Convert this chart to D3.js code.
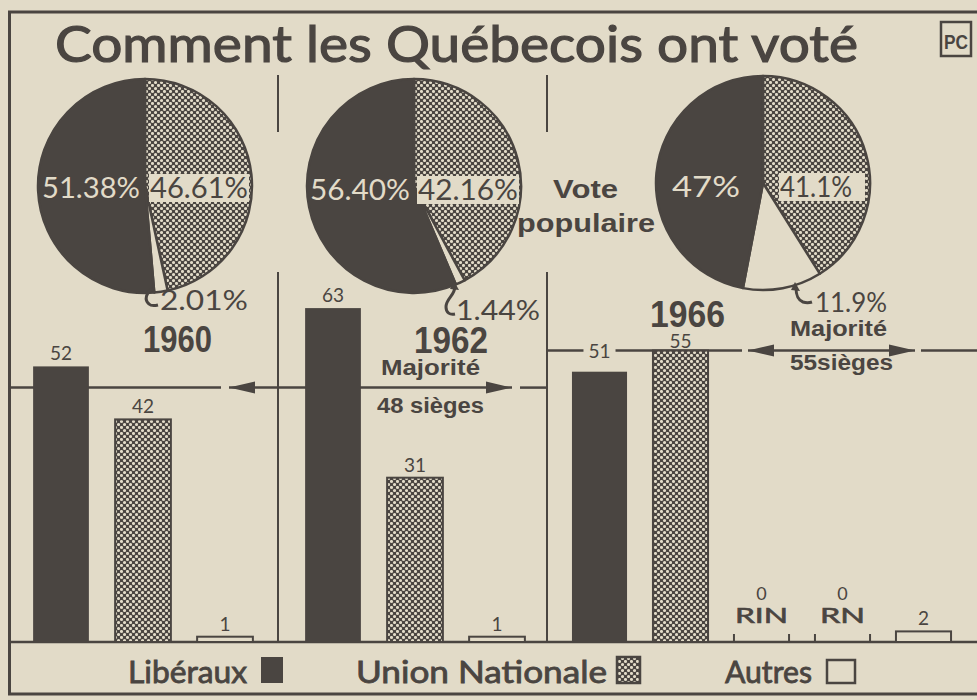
<!DOCTYPE html>
<html>
<head>
<meta charset="utf-8">
<script src="https://cdn.jsdelivr.net/npm/d3@7"></script>
<style>
body { margin: 0; background: #e2dbc8; }
svg { display: block; }
</style>
</head>
<body>
<svg id="chart"></svg>
<script>
// donnees
const annees = ["1960", "1962", "1966"];
const partis = ["Libéraux", "Union Nationale", "Autres"];
const voteLib = [51.38, 56.40, 47];
const voteUN = [46.61, 42.16, 41.1];
const voteAutres = [2.01, 1.44, 11.9];
const voteLibTxt = ["51.38%", "56.40%", "47%"];
const voteUNTxt = ["46.61%", "42.16%", "41.1%"];
const voteAutresTxt = ["2.01%", "1.44%", "11.9%"];
const siegesLib = [52, 63, 51];
const siegesUN = [42, 31, 55];
const siegesAutres = [1, 1, 2];
const petitsPartis1966 = ["RIN", "RN"];
const siegesPetits1966 = [0, 0];
const majorite = [48, 48, 55];
const majoriteTxt = ["48 sièges", "48 sièges", "55sièges"];

let width = 977, height = 700;
const bg = "#e2dbc8", ink = "#4a4541";
const fut = "Lato, 'Open Sans', sans-serif";
const hb = "'Liberation Sans', Arial, sans-serif";
const base = 642;

let svg = d3.select("#chart")
    .attr("width", width)
    .attr("height", height)
    .style("background", bg);

// trame pointillee (points clairs en quinconce)
let pat = svg.append("defs").append("pattern")
    .attr("id", "trame")
    .attr("width", 6).attr("height", 6)
    .attr("patternUnits", "userSpaceOnUse");
pat.append("rect").attr("width", 6).attr("height", 6).attr("fill", ink);
[[1.5, 1.5], [4.5, 4.5]].forEach(p => {
    pat.append("circle").attr("cx", p[0]).attr("cy", p[1]).attr("r", 1.55).attr("fill", bg);
});

const fillOf = k => k == "lib" ? ink : (k == "un" ? "url(#trame)" : bg);

// scale
let y = d3.scaleLinear().domain([0, 63]).range([base, base - 63 * 5.3]);

// cadre
svg.append("path")
    .attr("d", "M977,12 H9.5 V694 H977")
    .attr("fill", "none").attr("stroke", ink).attr("stroke-width", 3);
svg.append("line")
    .attr("x1", 9).attr("x2", 977).attr("y1", base).attr("y2", base)
    .attr("stroke", ink).attr("stroke-width", 2.5);

// separateurs
[278, 547].forEach(x => {
    [[75, 132], [272, base]].forEach(s => {
        svg.append("line")
            .attr("x1", x).attr("x2", x).attr("y1", s[0]).attr("y2", s[1])
            .attr("stroke", ink).attr("stroke-width", 2);
    });
});

// titre
svg.append("text")
    .attr("x", 55).attr("y", 62)
    .attr("textLength", 803).attr("lengthAdjust", "spacingAndGlyphs")
    .style("font-family", fut).style("font-weight", "normal")
    .style("font-size", "51px").attr("fill", ink)
    .attr("stroke", ink).attr("stroke-width", 1.2)
    .text("Comment les Québecois ont voté");

// logo PC
svg.append("rect")
    .attr("x", 941).attr("y", 22).attr("width", 30).attr("height", 34)
    .attr("fill", "none").attr("stroke", ink).attr("stroke-width", 2.5);
svg.append("text")
    .attr("x", 944).attr("y", 49)
    .attr("textLength", 24).attr("lengthAdjust", "spacingAndGlyphs")
    .style("font-family", hb).style("font-weight", "bold").style("font-size", "21px")
    .attr("fill", ink).text("PC");

// ligne de majorite (dessinee avant les barres)
function fleche(x, yy, dir) {
    // dir = -1 pointe a gauche, 1 a droite
    svg.append("path")
        .attr("d", "M" + x + "," + yy + " L" + (x - dir * 26) + "," + (yy - 6) + " L" + (x - dir * 26) + "," + (yy + 6) + "Z")
        .attr("fill", ink);
}
function trait(x1, x2, yy) {
    svg.append("line")
        .attr("x1", x1).attr("x2", x2).attr("y1", yy).attr("y2", yy)
        .attr("stroke", ink).attr("stroke-width", 2.5);
}
let yM = y(majorite[0]);
trait(9, 221, yM);
trait(229, 512, yM);
trait(520, 547, yM);
fleche(229, yM, -1);
fleche(512, yM, 1);
let yM3 = y(majorite[2]);
trait(547, 742, yM3);
trait(748, 915, yM3);
trait(921, 977, yM3);
fleche(748, yM3, -1);
fleche(915, yM3, 1);

// barres
let bandes = [[20, 266], [292, 538], [559, 964]];
annees.forEach((an, i) => {
    let rows = [{k: "lib", v: siegesLib[i]}, {k: "un", v: siegesUN[i]}];
    if (i == 2) petitsPartis1966.forEach((p, j) => rows.push({k: p, v: siegesPetits1966[j]}));
    rows.push({k: "aut", v: siegesAutres[i]});

    let x = d3.scaleBand()
        .domain(rows.map(d => d.k))
        .range(bandes[i])
        .paddingInner(0.32).paddingOuter(0.16);

    let g = svg.append("g");
    g.selectAll("rect")
        .data(rows.filter(d => d.v > 0))
        .enter().append("rect")
        .attr("x", d => x(d.k))
        .attr("y", d => y(d.v))
        .attr("width", x.bandwidth())
        .attr("height", d => base - y(d.v))
        .attr("fill", d => fillOf(d.k))
        .attr("stroke", d => d.k == "lib" ? "none" : ink)
        .attr("stroke-width", 2);

    // etiquettes
    rows.forEach(d => {
        let cx = x(d.k) + x.bandwidth() / 2;
        if (d.k == "RIN" || d.k == "RN") {
            [x(d.k), x(d.k) + x.bandwidth()].forEach(t => {
                g.append("line").attr("x1", t).attr("x2", t)
                    .attr("y1", base).attr("y2", base - 8)
                    .attr("stroke", ink).attr("stroke-width", 2);
            });
            g.append("text").attr("x", cx).attr("y", base - 19)
                .attr("textLength", x.bandwidth() - (d.k == "RN" ? 10 : 2)).attr("lengthAdjust", "spacingAndGlyphs")
                .style("text-anchor", "middle").style("font-family", fut)
                .style("font-size", "21px")
                .attr("stroke", ink).attr("stroke-width", 0.6)
                .attr("fill", ink).text(d.k);
            g.append("text").attr("x", cx).attr("y", base - 42)
                .style("text-anchor", "middle").style("font-family", fut)
                .style("font-size", "18px").attr("fill", ink).text(d.v);
            return;
        }
        let ly = y(d.v) - (i == 2 && d.k == "un" ? 3 : 6);
        let onLine = (i == 2 && d.k == "lib");
        if (onLine) ly = yM3 + 7;
        let t = g.append("text").attr("x", cx).attr("y", ly)
            .style("text-anchor", "middle").style("font-family", fut)
            .style("font-size", "19px").attr("fill", ink).text(d.v);
        if (onLine) {
            let b = t.node().getBBox();
            g.insert("rect", () => t.node())
                .attr("x", b.x - 5).attr("y", b.y).attr("width", b.width + 10).attr("height", b.height)
                .attr("fill", bg);
        }
    });
});

// camemberts
let pieC = [[145, 186], [414, 186], [763, 183]];
let r = 107;
let libOff = [[-103, 198, 98], [-104, 200, 100], [-91, 197, 68]];
let unOff = [[5, 198, 98], [4, 200, 100], [17, 197, 72]];
let pie = d3.pie().sort(null).value(d => d.v);
let arc = d3.arc().innerRadius(0).outerRadius(r);

annees.forEach((an, i) => {
    let g = svg.append("g").attr("transform", "translate(" + pieC[i][0] + "," + pieC[i][1] + ")");
    let parts = [{k: "un", v: voteUN[i]}, {k: "aut", v: voteAutres[i]}, {k: "lib", v: voteLib[i]}];
    g.selectAll("path")
        .data(pie(parts))
        .enter().append("path")
        .attr("d", arc)
        .attr("fill", d => fillOf(d.data.k))
        .attr("stroke", ink)
        .attr("stroke-width", 2.5)
        .attr("stroke-linejoin", "round");

    svg.append("text")
        .attr("x", pieC[i][0] + libOff[i][0]).attr("y", libOff[i][1])
        .attr("textLength", libOff[i][2]).attr("lengthAdjust", "spacingAndGlyphs")
        .style("font-family", fut).style("font-size", "28px")
        .attr("fill", bg).text(voteLibTxt[i]);

    let tu = svg.append("text")
        .attr("x", pieC[i][0] + unOff[i][0]).attr("y", unOff[i][1])
        .attr("textLength", unOff[i][2]).attr("lengthAdjust", "spacingAndGlyphs")
        .style("font-family", fut).style("font-size", "28px")
        .attr("fill", ink).text(voteUNTxt[i]);
    let b = tu.node().getBBox();
    svg.insert("rect", () => tu.node())
        .attr("x", b.x - 1).attr("y", b.y + 4).attr("width", b.width + (i == 2 ? 14 : 2)).attr("height", b.height - 6)
        .attr("fill", bg);
});

// etiquettes des autres (crochets)
let autresLbl = [
    {x: 160, y: 310, w: 88, hook: "M153,289 C146,292 144,300 149,304 C151,306 154,306 158,305"},
    {x: 456, y: 320, w: 84, hook: "M455,286 C455,296 446,298 446,307 C446,313 450,315 455,314"},
    {x: 815, y: 312, w: 72, hook: "M796,287 C796,296 798,300 803,302 C806,303 809,303 812,302"}
];
autresLbl.forEach((l, i) => {
    svg.append("path").attr("d", l.hook)
        .attr("fill", "none").attr("stroke", ink).attr("stroke-width", 3);
    if (i > 0) {
        let m = l.hook.match(/M([\d.]+),([\d.]+)/);
        let hx = +m[1], hy = +m[2];
        svg.append("path")
            .attr("d", "M" + (hx - 1) + "," + (hy - 5) + " L" + (hx + 4) + "," + (hy + 4) + " L" + (hx - 5) + "," + (hy + 3) + "Z")
            .attr("fill", ink);
    }
    svg.append("text")
        .attr("x", l.x).attr("y", l.y)
        .attr("textLength", l.w).attr("lengthAdjust", "spacingAndGlyphs")
        .style("font-family", fut).style("font-size", "27px")
        .attr("fill", ink).text(voteAutresTxt[i]);
});

// annees et majorite
function gras(txt, x, yy, size, len) {
    svg.append("text")
        .attr("x", x).attr("y", yy)
        .attr("textLength", len).attr("lengthAdjust", "spacingAndGlyphs")
        .style("font-family", hb).style("font-weight", "bold").style("font-size", size + "px")
        .attr("fill", ink).text(txt);
}
gras(annees[0], 143, 352, 36, 69);
gras(annees[1], 414, 353, 36, 74);
gras(annees[2], 650, 327, 36, 75);
gras("Majorité", 381, 375, 22, 99);
gras(majoriteTxt[1], 377, 413, 22, 107);
gras("Majorité", 790, 336, 22, 97);
gras(majoriteTxt[2], 790, 370, 22, 103);
gras("Vote", 553, 198, 25, 65);
gras("populaire", 517, 232, 25, 138);

// legende
let leg = [
    {t: partis[0], x: 128, w: 119, k: "lib", sx: 261, sy: 657, sw: 22, sh: 26},
    {t: partis[1], x: 356, w: 251, k: "un", sx: 617, sy: 657, sw: 23, sh: 26},
    {t: partis[2], x: 725, w: 87, k: "aut", sx: 827, sy: 660, sw: 28, sh: 23}
];
leg.forEach(l => {
    svg.append("text")
        .attr("x", l.x).attr("y", 683)
        .attr("textLength", l.w).attr("lengthAdjust", "spacingAndGlyphs")
        .style("font-family", fut).style("font-size", "30px")
        .attr("stroke", ink).attr("stroke-width", 0.8)
        .attr("fill", ink).text(l.t);
    svg.append("rect")
        .attr("x", l.sx).attr("y", l.sy).attr("width", l.sw).attr("height", l.sh)
        .attr("fill", fillOf(l.k))
        .attr("stroke", ink).attr("stroke-width", l.k == "lib" ? 0 : 2.5);
});
</script>
</body>
</html>
